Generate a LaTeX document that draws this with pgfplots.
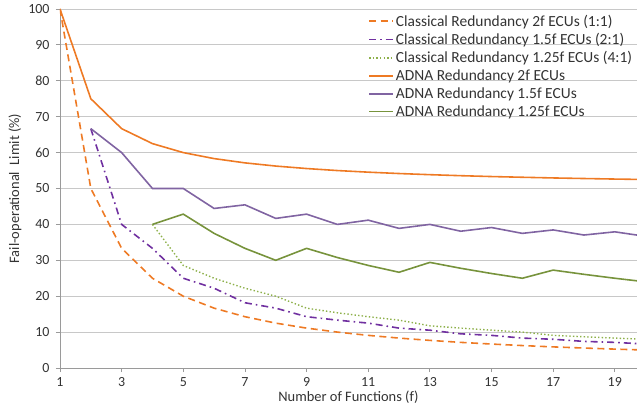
\documentclass[border=0pt]{standalone}
\usepackage{pgfplots}
\pgfplotsset{compat=1.18}
\usepackage{fontspec}
\setmainfont{Carlito}
\definecolor{xorange}{HTML}{EE7A24}
\definecolor{xviolet}{HTML}{7030A0}
\definecolor{xpurple}{HTML}{8064A2}
\definecolor{xgreen}{HTML}{77933C}
\definecolor{xlgreen}{HTML}{8DB04A}
\definecolor{xgrid}{HTML}{C8C8C8}
\definecolor{xaxis}{HTML}{9A9A9A}
\definecolor{xtext}{HTML}{333333}
\begin{document}
\begin{tikzpicture}
\begin{axis}[
  at={(0,0)}, anchor=south west,
  scale only axis, width=577bp, height=359bp,
  xmin=1, xmax=19.72, ymin=0, ymax=100,
  xtick={1,3,...,19}, ytick={0,10,...,100},
  axis x line*=bottom, axis y line*=left,
  axis line style={xaxis, line width=0.8pt, -},
  ymajorgrids, grid style={xgrid, line width=0.8pt},
  tick style={xaxis, line width=0.8pt},
  xtick pos=bottom, ytick pos=left,
  tick align=outside,
  major tick length=4bp,
  tick label style={font=\fontsize{14}{16}\selectfont, text=xtext},
  /pgf/number format/assume math mode=true,
  xticklabel style={yshift=-2bp},
  yticklabel style={xshift=-3bp},
  xlabel={Number of Functions (f)},
  xlabel style={font=\fontsize{14.5}{17}\selectfont, text=xtext, yshift=3bp},
  ylabel={Fail-operational\ \ Limit (\%)},
  ylabel style={font=\fontsize{14.5}{17}\selectfont, text=xtext, yshift=0bp},
  clip=true,
  legend cell align=left,
  legend style={at={(0.534,0.99)}, anchor=north west, draw=none, fill=none,
    font=\fontsize{15.5}{18}\selectfont, text=xtext, row sep=1.6bp,
    inner sep=0pt, /tikz/every even column/.append style={column sep=3bp}},
  legend image code/.code={\draw[#1] (0bp,0bp) -- (24bp,0bp);},
]
% Classical 2f (1:1)
\addplot[xorange, line width=1.6pt, dash pattern=on 7bp off 4.5bp] coordinates {
(1,100) (2,50) (3,33.33) (4,25) (5,20) (6,16.67) (7,14.29) (8,12.5) (9,11.11) (10,10)
(11,9.09) (12,8.33) (13,7.69) (14,7.14) (15,6.67) (16,6.25) (17,5.88) (18,5.56) (19,5.26) (20,5)};
\addlegendentry{Classical Redundancy 2f ECUs (1:1)}
% Classical 1.5f (2:1)
\addplot[xviolet, line width=1.6pt, dash pattern=on 7bp off 4bp on 1.6bp off 4bp] coordinates {
(2,66.67) (3,40) (4,33.33) (5,25) (6,22.22) (7,18.18) (8,16.67) (9,14.29) (10,13.33)
(11,12.5) (12,11.11) (13,10.53) (14,9.52) (15,9.09) (16,8.33) (17,8) (18,7.41) (19,7.14) (20,6.67)};
\addlegendentry{Classical Redundancy 1.5f ECUs (2:1)}
% Classical 1.25f (4:1)
\addplot[xlgreen, line width=1.4pt, dash pattern=on 1.4bp off 2.2bp] coordinates {
(4,40) (5,28.57) (6,25) (7,22.22) (8,20) (9,16.67) (10,15.38) (11,14.29) (12,13.33)
(13,11.76) (14,11.11) (15,10.53) (16,10) (17,9.09) (18,8.7) (19,8.33) (20,8)};
\addlegendentry{Classical Redundancy 1.25f ECUs (4:1)}
% ADNA 2f
\addplot[xorange, line width=1.6pt] coordinates {
(1,100) (2,75) (3,66.67) (4,62.5) (5,60) (6,58.33) (7,57.14) (8,56.25) (9,55.56) (10,55)
(11,54.55) (12,54.17) (13,53.85) (14,53.57) (15,53.33) (16,53.13) (17,52.94) (18,52.78) (19,52.63) (20,52.5)};
\addlegendentry{ADNA Redundancy 2f ECUs}
% ADNA 1.5f
\addplot[xpurple, line width=1.6pt] coordinates {
(2,66.67) (3,60) (4,50) (5,50) (6,44.44) (7,45.45) (8,41.67) (9,42.86) (10,40)
(11,41.18) (12,38.89) (13,40) (14,38.1) (15,39.13) (16,37.5) (17,38.46) (18,37.04) (19,37.93) (20,36.67)};
\addlegendentry{ADNA Redundancy 1.5f ECUs}
% ADNA 1.25f
\addplot[xgreen, line width=1.6pt] coordinates {
(4,40) (5,42.86) (6,37.5) (7,33.33) (8,30) (9,33.33) (10,30.77) (11,28.57) (12,26.67)
(13,29.41) (14,27.78) (15,26.32) (16,25) (17,27.27) (18,26.09) (19,25) (20,24)};
\addlegendentry{ADNA Redundancy 1.25f ECUs}
\end{axis}
\pgfresetboundingbox
\path (-60bp,-52bp) rectangle (577bp,368bp);
\end{tikzpicture}
\end{document}
